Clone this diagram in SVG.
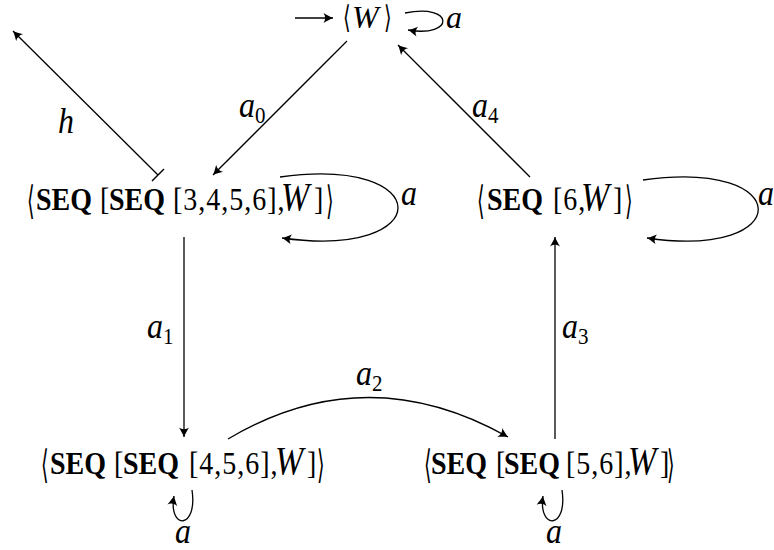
<svg xmlns="http://www.w3.org/2000/svg" width="774" height="550" viewBox="0 0 774 550">
  <style>
    text { font-family: "Liberation Serif", "Times New Roman", serif; font-size: 28px; fill: #000; }
    .b { font-weight: bold; }
    .i { font-style: italic; font-size: 32px; }
    .w { font-style: italic; font-size: 34px; }
    .ls { letter-spacing: 1px; }
    .ang { font-family: "DejaVu Sans", sans-serif; font-size: 26px; font-weight: normal; }
    .sub { font-size: 21px; font-style: normal; }
    .edge { fill: none; stroke: #000; stroke-width: 1.3; }
  </style>
  <defs>
    <marker id="arrow" markerUnits="userSpaceOnUse" markerWidth="14" markerHeight="14" viewBox="-11 -7 13 14" refX="0" refY="0" orient="auto">
      <path d="M0,0 C-3,-1.2 -6,-3 -9.5,-5 C-7.3,-2 -7.3,2 -9.5,5 C-6,3 -3,1.2 0,0 Z" fill="#000"/>
    </marker>
    <marker id="bar" markerUnits="userSpaceOnUse" markerWidth="4" markerHeight="20" viewBox="-2 -10 4 20" refX="0" refY="0" orient="auto">
      <line x1="0" y1="-8.5" x2="0" y2="8.5" stroke="#000" stroke-width="1.4"/>
    </marker>
  </defs>

  <!-- transitions -->
  <g id="edges">
    <line class="edge" x1="295" y1="18" x2="333" y2="18" marker-end="url(#arrow)"/>
    <path class="edge" d="M405,13 C455,3 455,38 408,30" marker-end="url(#arrow)"/>
    <line class="edge" x1="347" y1="41" x2="213" y2="175" marker-end="url(#arrow)"/>
    <line class="edge" x1="530" y1="177" x2="398" y2="45" marker-end="url(#arrow)"/>
    <line class="edge" x1="158" y1="175" x2="13" y2="31" marker-start="url(#bar)" marker-end="url(#arrow)"/>
    <path class="edge" d="M280,177 C437,155 437,260 282,238" marker-end="url(#arrow)"/>
    <path class="edge" d="M643,180 C796,158 796,260 647,238" marker-end="url(#arrow)"/>
    <line class="edge" x1="184" y1="237" x2="184" y2="437" marker-end="url(#arrow)"/>
    <line class="edge" x1="555" y1="439" x2="555" y2="237" marker-end="url(#arrow)"/>
    <path class="edge" d="M228,439 Q366,357 508,437" marker-end="url(#arrow)"/>
    <path class="edge" d="M192,490 C198,530 168,530 174,496" marker-end="url(#arrow)"/>
    <path class="edge" d="M562,490 C568,530 538,530 543,496" marker-end="url(#arrow)"/>

    <!-- edge labels -->
    <text class="i" x="446" y="28">a</text>
    <text class="i" y="0" transform="translate(0,117) scale(1,1.1)"><tspan x="239">a</tspan><tspan class="sub" dy="5">0</tspan></text>
    <text class="i" y="0" transform="translate(0,117) scale(1,1.1)"><tspan x="472">a</tspan><tspan class="sub" dy="5">4</tspan></text>
    <text class="i" y="0" transform="translate(0,338) scale(1,1.1)"><tspan x="147">a</tspan><tspan class="sub" dy="5">1</tspan></text>
    <text class="i" y="0" transform="translate(0,338) scale(1,1.1)"><tspan x="562">a</tspan><tspan class="sub" dy="5">3</tspan></text>
    <text class="i" y="0" transform="translate(0,385) scale(1,1.1)"><tspan x="356">a</tspan><tspan class="sub" dy="5">2</tspan></text>
    <text class="i" x="58" y="0" transform="translate(0,133) scale(1,1.1)">h</text>
    <text class="i" x="401" y="0" transform="translate(0,205) scale(1,1.1)">a</text>
    <text class="i" x="758" y="0" transform="translate(0,205) scale(1,1.1)">a</text>
    <text class="i" x="175" y="0" transform="translate(0,543) scale(1,1.1)">a</text>
    <text class="i" x="546" y="0" transform="translate(0,543) scale(1,1.1)">a</text>
  </g>

  <!-- states -->
  <g id="state-W">
    <text class="ang" y="0" transform="translate(343,28) scale(0.75,1.2)">⟨</text>
    <text class="i" x="352" y="28">W</text>
    <text class="ang" y="0" transform="translate(384,28) scale(0.75,1.2)">⟩</text>
  </g>

  <g id="state-seq-3456">
    <text class="ang" y="0" transform="translate(27,214) scale(0.75,1.5)">⟨</text>
    <text y="0" transform="translate(0,210) scale(1,1.15)"><tspan class="b" x="36">SEQ</tspan><tspan x="100">[</tspan><tspan class="b" x="109">SEQ</tspan><tspan class="ls" x="173">[3,4,5,6],</tspan><tspan class="w" x="281">W</tspan><tspan x="314">]</tspan></text>
    <text class="ang" y="0" transform="translate(326,214) scale(0.75,1.5)">⟩</text>
  </g>

  <g id="state-seq-6">
    <text class="ang" y="0" transform="translate(477,214) scale(0.75,1.5)">⟨</text>
    <text y="0" transform="translate(0,210) scale(1,1.15)"><tspan class="b" x="487">SEQ</tspan><tspan class="ls" x="553">[6,</tspan><tspan class="w" x="581">W</tspan><tspan x="613">]</tspan></text>
    <text class="ang" y="0" transform="translate(625,214) scale(0.75,1.5)">⟩</text>
  </g>

  <g id="state-seq-456">
    <text class="ang" y="0" transform="translate(41,478) scale(0.75,1.5)">⟨</text>
    <text y="0" transform="translate(0,474) scale(1,1.15)"><tspan class="b" x="50">SEQ</tspan><tspan x="114">[</tspan><tspan class="b" x="123">SEQ</tspan><tspan class="ls" x="189">[4,5,6],</tspan><tspan class="w" x="275">W</tspan><tspan x="307">]</tspan></text>
    <text class="ang" y="0" transform="translate(317,478) scale(0.75,1.5)">⟩</text>
  </g>

  <g id="state-seq-56">
    <text class="ang" y="0" transform="translate(424,478) scale(0.75,1.5)">⟨</text>
    <text y="0" transform="translate(0,474) scale(1,1.15)"><tspan class="b" x="431">SEQ</tspan><tspan x="496">[</tspan><tspan class="b" x="504">SEQ</tspan><tspan class="ls" x="566">[5,6],</tspan><tspan class="w" x="628">W</tspan><tspan x="660">]</tspan></text>
    <text class="ang" y="0" transform="translate(667,478) scale(0.75,1.5)">⟩</text>
  </g>
</svg>
